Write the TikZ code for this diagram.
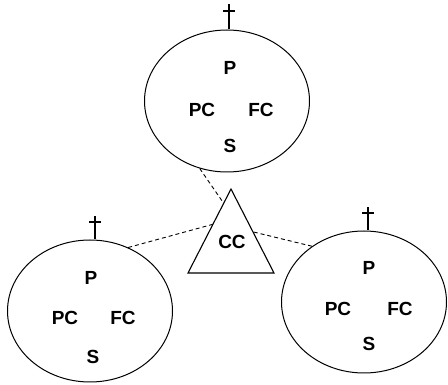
\documentclass[tikz,border=0pt]{standalone}
\usepackage{fontspec}
\setmainfont{Liberation Sans}
\usetikzlibrary{shapes.geometric,calc}
\begin{document}
\begin{tikzpicture}[x=1pt,y=-1pt,
  cell/.style={draw,ellipse,line width=1pt,minimum width=165pt,minimum height=142pt,inner sep=0pt},
  lbl/.style={font=\fontsize{19}{21}\selectfont\bfseries,inner sep=0pt},
  link/.style={dashed,line width=0.9pt,dash pattern=on 4pt off 3pt},
  crossline/.style={line width=2.6pt},
  crossbar/.style={line width=2pt},
  tri/.style={line width=1.1pt,line join=miter}]
\useasboundingbox (0,0) rectangle (448,385);
% cells
\node[cell] (top) at (227,101) {};
\node[cell] (left) at (90,311) {};
\node[cell] (right) at (364,302) {};
% labels top
\node[lbl] (tP) at (230,68) {P};
\node[lbl] (tPC) at (202,110) {PC};
\node[lbl] (tFC) at (261,110) {FC};
\node[lbl] (tS) at (230,146) {S};
% labels left
\node[lbl] (lP) at (91,278) {P};
\node[lbl] (lPC) at (65,318) {PC};
\node[lbl] (lFC) at (123,318) {FC};
\node[lbl] (lS) at (93,357) {S};
% labels right
\node[lbl] (rP) at (369,268) {P};
\node[lbl] (rPC) at (338,309) {PC};
\node[lbl] (rFC) at (400,309) {FC};
\node[lbl] (rS) at (369,344) {S};
% triangle
\coordinate (apex) at (231,189);
\coordinate (bl) at (188,273);
\coordinate (br) at (274,273);
\draw[tri] (apex) -- (bl) -- (br) -- cycle;
\node[lbl] (cc) at (232,242) {CC};
\coordinate (eTop) at ($(apex)!0.17!(bl)$);
\coordinate (eLeft) at ($(apex)!0.42!(bl)$);
\coordinate (eRight) at ($(apex)!0.51!(br)$);
% dashed links
\draw[link] (top.248) -- (eTop);
\draw[link] (left.59) -- (eLeft);
\draw[link] (right.133) -- (eRight);
% crosses
\coordinate (ctop) at ($(top.north)+(2,0)$);
\draw[crossline] (ctop) -- ++(0,-25);
\draw[crossbar] ($(ctop)+(-6,-18)$) -- ++(12,0);
\coordinate (cleft) at ($(left.north)+(5,0)$);
\draw[crossline] (cleft) -- ++(0,-23);
\draw[crossbar] ($(cleft)+(-6,-17)$) -- ++(12,0);
\coordinate (cright) at ($(right.north)+(4,0)$);
\draw[crossline] (cright) -- ++(0,-23);
\draw[crossbar] ($(cright)+(-6,-17)$) -- ++(12,0);
\end{tikzpicture}
\end{document}
